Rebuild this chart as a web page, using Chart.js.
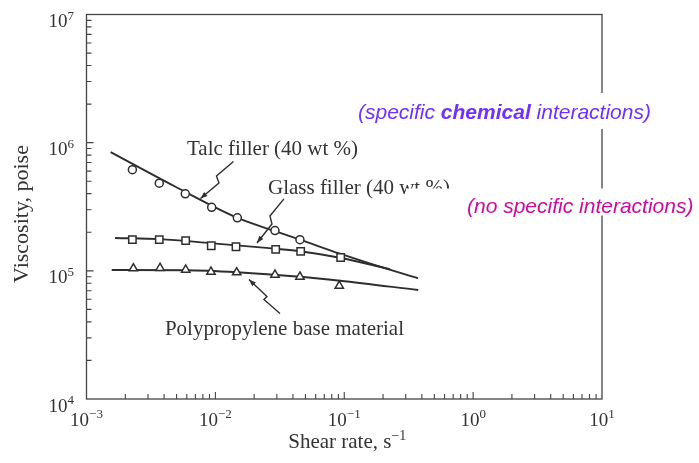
<!DOCTYPE html>
<html>
<head>
<meta charset="utf-8">
<title>Viscosity vs shear rate</title>
<script src="https://cdn.jsdelivr.net/npm/chart.js@4/dist/chart.umd.min.js"></script>
<style>
  html, body { margin: 0; padding: 0; background: #ffffff; }
  #c { display: block; }
</style>
</head>
<body>
<canvas id="c" width="699" height="463"></canvas>
<script>
// Measured points: shear rate (1/s) and viscosity (poise)
const talcShear  = [0.00227, 0.00367, 0.00584, 0.00936, 0.0148, 0.0290, 0.0453];
const talcVisc   = [6.15e5, 4.83e5, 3.99e5, 3.13e5, 2.59e5, 2.06e5, 1.75e5];
const glassShear = [0.00227, 0.00367, 0.00588, 0.00929, 0.01445, 0.02937, 0.0459, 0.0938];
const glassVisc  = [1.75e5, 1.75e5, 1.72e5, 1.57e5, 1.54e5, 1.47e5, 1.42e5, 1.27e5];
const ppShear    = [0.00231, 0.00372, 0.00588, 0.00924, 0.01463, 0.0290, 0.0453, 0.0915];
const ppVisc     = [1.044e5, 1.052e5, 1.02e5, 9.84e4, 9.71e4, 9.32e4, 8.99e4, 7.64e4];

// Hand-drawn trend curves through each data set
const talcFitShear  = [0.00154, 0.00486, 0.0147, 0.0290, 0.0453, 0.0926, 0.189, 0.373];
const talcFitVisc   = [8.44e5, 4.55e5, 2.60e5, 2.04e5, 1.75e5, 1.36e5, 1.077e5, 8.75e4];
const glassFitShear = [0.001664, 0.003717, 0.00923, 0.0290, 0.0453, 0.0926, 0.2262];
const glassFitVisc  = [1.806e5, 1.768e5, 1.644e5, 1.489e5, 1.423e5, 1.266e5, 1.029e5];
const ppFitShear    = [0.001568, 0.00591, 0.01471, 0.0453, 0.0926, 0.375];
const ppFitVisc     = [1.015e5, 1.011e5, 9.75e4, 8.99e4, 8.37e4, 7.08e4];

// Axis decades (exponents) for tick labels
const xDecades = [-3, -2, -1, 0, 1];
const yDecades = [4, 5, 6, 7];

// Curve captions and their leader lines, in data units [shear, viscosity]
const captions = [
  { text: 'Talc filler (40 wt %)',        at: [0.00602, 8.01e5] },
  { text: 'Glass filler (40 wt %)',       at: [0.02559, 4.01e5] },
  { text: 'Polypropylene base material',  at: [0.00406, 3.16e4] }
];
const leaders = [
  [[0.01381, 7.13e5], [0.01020, 5.50e5], [0.01066, 4.85e5], [0.00766, 3.67e5]],
  [[0.03405, 3.64e5], [0.02652, 2.68e5], [0.02749, 2.32e5], [0.02102, 1.65e5]],
  [[0.03172, 4.65e4], [0.02382, 5.98e4], [0.02514, 6.31e4], [0.01823, 8.56e4]]
];

const pts = (xs, ys) => xs.map((x, i) => ({ x: x, y: ys[i] }));

const INK = '#2e2e2e';
const SERIF = "'Liberation Serif', 'Times New Roman', serif";
const SANS = "'Liberation Sans', Arial, sans-serif";

function drawArrowHead(ctx, from, to, len, half) {
  const a = Math.atan2(to.y - from.y, to.x - from.x);
  ctx.beginPath();
  ctx.moveTo(to.x, to.y);
  ctx.lineTo(to.x - len * Math.cos(a) + half * Math.sin(a), to.y - len * Math.sin(a) - half * Math.cos(a));
  ctx.lineTo(to.x - len * Math.cos(a) - half * Math.sin(a), to.y - len * Math.sin(a) + half * Math.cos(a));
  ctx.closePath();
  ctx.fill();
}

// Text "10" with a raised exponent
function powerLabel(ctx, exp, x, baseY, align, bigPx, smallPx, rise) {
  const base = '10';
  const sup = exp < 0 ? '\u2212' + Math.abs(exp) : String(exp);
  ctx.font = bigPx + 'px ' + SERIF;
  const w1 = ctx.measureText(base).width;
  ctx.font = smallPx + 'px ' + SERIF;
  const w2 = ctx.measureText(sup).width;
  const total = w1 + w2;
  let left = x;
  if (align === 'center') left = x - total / 2;
  if (align === 'right') left = x - total;
  ctx.textAlign = 'left';
  ctx.textBaseline = 'alphabetic';
  ctx.font = bigPx + 'px ' + SERIF;
  ctx.fillText(base, left, baseY);
  ctx.font = smallPx + 'px ' + SERIF;
  ctx.fillText(sup, left + w1, baseY - rise);
}

const decor = {
  id: 'decor',
  beforeDraw(chart) {
    const ctx = chart.ctx;
    ctx.save();
    ctx.fillStyle = '#ffffff';
    ctx.fillRect(0, 0, chart.width, chart.height);
    ctx.restore();
  },
  afterDatasetsDraw(chart) {
    const ctx = chart.ctx;
    const xs = chart.scales.x, ys = chart.scales.y;
    const a = chart.chartArea;
    ctx.save();

    // frame
    ctx.strokeStyle = '#444';
    ctx.lineWidth = 1.3;
    ctx.strokeRect(a.left, a.top, a.right - a.left, a.bottom - a.top);

    // inward ticks
    ctx.lineWidth = 1.1;
    ctx.beginPath();
    for (let e = -3; e <= 0; e++) {
      for (let m = 1; m <= 9; m++) {
        if (e === -3 && m === 1) continue;
        const px = xs.getPixelForValue(m * Math.pow(10, e));
        const len = m === 1 ? 7 : 5;
        ctx.moveTo(px, a.bottom);
        ctx.lineTo(px, a.bottom - len);
      }
    }
    for (let e = 4; e <= 6; e++) {
      for (let m = 1; m <= 9; m++) {
        if (e === 4 && m === 1) continue;
        const py = ys.getPixelForValue(m * Math.pow(10, e));
        const len = m === 1 ? 7 : 5;
        ctx.moveTo(a.left, py);
        ctx.lineTo(a.left + len, py);
      }
    }
    ctx.stroke();

    // tick labels
    ctx.fillStyle = '#333';
    xDecades.forEach(e => {
      const px = xs.getPixelForValue(Math.pow(10, e));
      powerLabel(ctx, e, px, a.bottom + 27, 'center', 19, 13, 8.5);
    });
    yDecades.forEach(e => {
      const py = ys.getPixelForValue(Math.pow(10, e));
      powerLabel(ctx, e, 74, py + 12.5, 'right', 19, 13, 7.5);
    });

    // axis titles
    ctx.font = '21px ' + SERIF;
    const t1 = 'Shear rate, s';
    const w1 = ctx.measureText(t1).width;
    ctx.font = '14px ' + SERIF;
    const t2 = '\u22121';
    const w2 = ctx.measureText(t2).width;
    const cx = (a.left + a.right) / 2 + 3;
    const left = cx - (w1 + w2) / 2;
    ctx.textAlign = 'left';
    ctx.textBaseline = 'alphabetic';
    ctx.font = '21px ' + SERIF;
    ctx.fillText(t1, left, 448);
    ctx.font = '14px ' + SERIF;
    ctx.fillText(t2, left + w1, 440);

    ctx.save();
    ctx.translate(28, 214);
    ctx.rotate(-Math.PI / 2);
    ctx.font = '22px ' + SERIF;
    ctx.textAlign = 'center';
    ctx.fillText('Viscosity, poise', 0, 0);
    ctx.restore();

    // captions
    ctx.font = '21px ' + SERIF;
    ctx.textAlign = 'left';
    captions.forEach(c => {
      ctx.fillText(c.text, xs.getPixelForValue(c.at[0]), ys.getPixelForValue(c.at[1]));
    });

    // leader lines with arrow heads
    ctx.strokeStyle = INK;
    ctx.fillStyle = INK;
    ctx.lineWidth = 1.4;
    leaders.forEach(path => {
      const p = path.map(v => ({ x: xs.getPixelForValue(v[0]), y: ys.getPixelForValue(v[1]) }));
      ctx.beginPath();
      p.forEach((q, i) => i ? ctx.lineTo(q.x, q.y) : ctx.moveTo(q.x, q.y));
      ctx.stroke();
      drawArrowHead(ctx, p[p.length - 2], p[p.length - 1], 7, 2.6);
    });
    ctx.restore();
  },
  afterDraw(chart) {
    const ctx = chart.ctx;
    ctx.save();
    // boxed notes
    ctx.fillStyle = '#ffffff';
    ctx.fillRect(350, 93, 318, 36);
    ctx.fillRect(406, 188.5, 293, 27);

    ctx.textAlign = 'left';
    ctx.textBaseline = 'alphabetic';
    const y1 = 119;
    let x = 358;
    ctx.fillStyle = '#7030ff';
    ctx.font = 'italic 21px ' + SANS;
    ctx.fillText('(specific ', x, y1);
    x += ctx.measureText('(specific ').width;
    ctx.font = 'italic bold 21px ' + SANS;
    ctx.fillText('chemical', x, y1);
    x += ctx.measureText('chemical').width;
    ctx.font = 'italic 21px ' + SANS;
    ctx.fillText(' interactions)', x, y1);

    ctx.fillStyle = '#cc0a9e';
    ctx.fillText('(no specific interactions)', 467, 212.5);
    ctx.restore();
  }
};

const lineStyle = {
  showLine: true,
  pointRadius: 0,
  borderColor: INK,
  borderWidth: 1.9,
  cubicInterpolationMode: 'monotone',
  fill: false
};
const markStyle = {
  showLine: false,
  backgroundColor: '#ffffff',
  borderColor: INK,
  borderWidth: 1.5
};

new Chart(document.getElementById('c'), {
  type: 'scatter',
  data: {
    datasets: [
      Object.assign({ label: 'Talc filler', data: pts(talcShear, talcVisc), pointStyle: 'circle', pointRadius: 4 }, markStyle),
      Object.assign({ label: 'Glass filler', data: pts(glassShear, glassVisc), pointStyle: 'rect', pointRadius: 5.2 }, markStyle),
      Object.assign({ label: 'Polypropylene', data: pts(ppShear, ppVisc), pointStyle: 'triangle', pointRadius: 4.8 }, markStyle),
      Object.assign({ label: 'Talc trend', data: pts(talcFitShear, talcFitVisc) }, lineStyle),
      Object.assign({ label: 'Glass trend', data: pts(glassFitShear, glassFitVisc) }, lineStyle),
      Object.assign({ label: 'PP trend', data: pts(ppFitShear, ppFitVisc) }, lineStyle)
    ]
  },
  options: {
    responsive: false,
    animation: false,
    devicePixelRatio: 1,
    layout: { padding: { top: 14.5, right: 97, left: 0, bottom: 0 } },
    plugins: { legend: { display: false }, tooltip: { enabled: false } },
    scales: {
      x: {
        type: 'logarithmic',
        min: 1e-3, max: 10,
        grid: { display: false },
        border: { display: false },
        ticks: { display: false },
        afterFit: s => { s.height = 64; }
      },
      y: {
        type: 'logarithmic',
        min: 1e4, max: 1e7,
        grid: { display: false },
        border: { display: false },
        ticks: { display: false },
        afterFit: s => { s.width = 86.5; }
      }
    }
  },
  plugins: [decor]
});
</script>
</body>
</html>
